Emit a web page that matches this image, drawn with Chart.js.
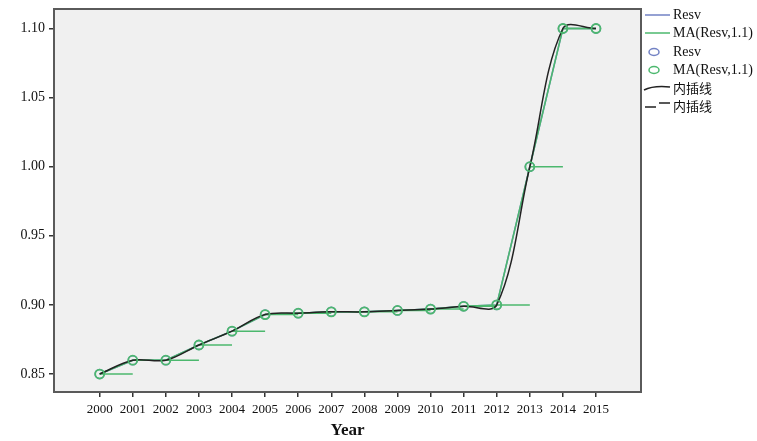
<!DOCTYPE html>
<html>
<head>
<meta charset="utf-8">
<script src="https://cdn.jsdelivr.net/npm/chart.js@4"></script>
<style>
  html, body { margin: 0; padding: 0; background: #fff; }
  #wrap { width: 757px; height: 441px; }
</style>
</head>
<body>
<div id="wrap"><canvas id="chart" width="757" height="441"></canvas></div>
<script>
// values
const years = [2000, 2001, 2002, 2003, 2004, 2005, 2006, 2007, 2008, 2009, 2010, 2011, 2012, 2013, 2014, 2015];
const resv = [0.850, 0.860, 0.860, 0.871, 0.881, 0.893, 0.894, 0.895, 0.895, 0.896, 0.897, 0.899, 0.900, 1.000, 1.100, 1.100];
const maResv = [0.850, 0.860, 0.860, 0.871, 0.881, 0.893, 0.894, 0.895, 0.895, 0.896, 0.897, 0.899, 0.900, 1.000, 1.100, 1.100];
const yTicks = [0.85, 0.90, 0.95, 1.00, 1.05, 1.10];

const BLUE = '#7282c4';
const GREEN = '#4cb86e';
const BLACK = '#222222';
const SERIF = '"Liberation Serif", "Times New Roman", serif';

// points as {x, y}
function pts(vals) {
    return years.map((yr, i) => ({ x: yr, y: vals[i] }));
}

// one-year horizontal pieces of the MA series
function steps(vals) {
    const out = [];
    for (let i = 0; i < years.length - 1; i++) {
        out.push({ x: years[i], y: vals[i] });
        out.push({ x: years[i + 1], y: vals[i] });
        out.push({ x: years[i + 1], y: null });
    }
    return out;
}

// grey plot area + frame
const frame = {
    id: 'frame',
    beforeDatasetsDraw(chart) {
        const a = chart.chartArea, ctx = chart.ctx;
        ctx.save();
        ctx.fillStyle = '#f0f0f0';
        ctx.fillRect(a.left, a.top, a.right - a.left, a.bottom - a.top);
        ctx.restore();
    },
    afterDraw(chart) {
        const a = chart.chartArea, ctx = chart.ctx;
        ctx.save();
        ctx.strokeStyle = '#5a5a5a';
        ctx.lineWidth = 2;
        ctx.strokeRect(a.left, a.top, a.right - a.left, a.bottom - a.top);
        ctx.restore();
    }
};

// legend on the right, drawn like the source
const sideLegend = {
    id: 'sideLegend',
    afterDraw(chart) {
        const ctx = chart.ctx;
        const x0 = 645, x1 = 670, tx = 673;
        ctx.save();
        ctx.lineWidth = 1.5;
        ctx.textBaseline = 'middle';
        ctx.fillStyle = '#111';

        function line(y, color) {
            ctx.strokeStyle = color;
            ctx.beginPath(); ctx.moveTo(x0, y); ctx.lineTo(x1, y); ctx.stroke();
        }
        function ring(y, color) {
            ctx.strokeStyle = color;
            ctx.beginPath(); ctx.ellipse(654, y, 5, 3.5, 0, 0, Math.PI * 2); ctx.stroke();
        }
        function label(y, text, font) {
            ctx.font = font;
            ctx.fillText(text, tx, y);
        }

        line(15, BLUE);  label(15, 'Resv', '14px ' + SERIF);
        line(33, GREEN); label(33, 'MA(Resv,1.1)', '14px ' + SERIF);
        ring(52, BLUE);  label(52, 'Resv', '14px ' + SERIF);
        ring(70, GREEN); label(70, 'MA(Resv,1.1)', '14px ' + SERIF);

        ctx.strokeStyle = BLACK;
        ctx.beginPath();
        ctx.moveTo(644, 90);
        ctx.bezierCurveTo(652, 86, 660, 86, 670, 87);
        ctx.stroke();
        label(88, '内插线', '13px "Noto Sans CJK SC", sans-serif');

        ctx.beginPath();
        ctx.moveTo(645, 107); ctx.lineTo(656, 107);
        ctx.moveTo(659, 103); ctx.lineTo(670, 103);
        ctx.stroke();
        label(106, '内插线', '13px "Noto Sans CJK SC", sans-serif');
        ctx.restore();
    }
};

new Chart(document.getElementById('chart'), {
    type: 'line',
    data: {
        datasets: [
            {
                label: 'MA(Resv,1.1)',
                data: pts(maResv),
                showLine: false,
                pointStyle: 'circle',
                pointRadius: 4.5,
                pointBorderWidth: 1.8,
                pointBorderColor: GREEN,
                pointBackgroundColor: 'rgba(0,0,0,0)',
                order: 0
            },
            {
                label: '内插线',
                data: pts(resv),
                borderColor: BLACK,
                borderWidth: 1.5,
                tension: 0.35,
                pointRadius: 0,
                order: 1
            },
            {
                label: 'MA(Resv,1.1)',
                data: pts(maResv),
                borderColor: GREEN,
                borderWidth: 1.5,
                tension: 0,
                pointRadius: 0,
                order: 2
            },
            {
                label: 'MA(Resv,1.1) steps',
                data: steps(maResv),
                borderColor: GREEN,
                borderWidth: 1.5,
                spanGaps: false,
                pointRadius: 0,
                order: 3
            },
            {
                label: 'Resv',
                data: pts(resv),
                borderColor: BLUE,
                borderWidth: 1.5,
                pointRadius: 4.5,
                pointBorderColor: BLUE,
                pointBackgroundColor: 'rgba(0,0,0,0)',
                order: 4
            }
        ]
    },
    options: {
        responsive: false,
        animation: false,
        layout: { padding: { top: 9, right: 116, left: 0, bottom: 0 } },
        plugins: {
            legend: { display: false },
            tooltip: { enabled: false }
        },
        scales: {
            x: {
                type: 'linear',
                min: 1998.62,
                max: 2016.36,
                afterBuildTicks: axis => { axis.ticks = years.map(v => ({ value: v })); },
                afterFit: axis => { axis.height = 49; axis.paddingLeft = 0; axis.paddingRight = 0; },
                grid: { drawOnChartArea: false, drawTicks: true, tickLength: 5, color: '#333', lineWidth: 1.5 },
                border: { display: false },
                ticks: {
                    color: '#111',
                    padding: 5,
                    maxRotation: 0,
                    autoSkip: false,
                    font: { family: SERIF, size: 13 },
                    callback: v => String(v)
                },
                title: {
                    display: true,
                    text: 'Year',
                    color: '#111',
                    padding: { top: 0, bottom: 0 },
                    font: { family: SERIF, size: 17, weight: 'bold' }
                }
            },
            y: {
                min: 0.837,
                max: 1.1141,
                afterBuildTicks: axis => { axis.ticks = yTicks.map(v => ({ value: v })); },
                afterFit: axis => { axis.width = 54; axis.paddingTop = 0; axis.paddingBottom = 0; },
                grid: { drawOnChartArea: false, drawTicks: true, tickLength: 5, color: '#333', lineWidth: 1.5 },
                border: { display: false },
                ticks: {
                    color: '#111',
                    padding: 4,
                    font: { family: SERIF, size: 14 },
                    callback: v => v.toFixed(2)
                }
            }
        }
    },
    plugins: [frame, sideLegend]
});
</script>
</body>
</html>
